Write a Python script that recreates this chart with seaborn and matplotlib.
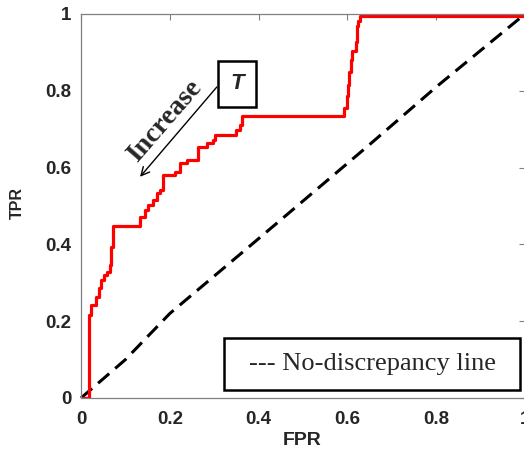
import matplotlib
matplotlib.use("Agg")
import matplotlib.pyplot as plt
import seaborn as sns
import pandas as pd
from matplotlib.patches import Rectangle

# ROC staircase vertices (steps-post)
fpr = [0.0, 0.018, 0.023, 0.034, 0.041, 0.045, 0.052, 0.059, 0.065, 0.068, 0.072,
       0.133, 0.144, 0.151, 0.162, 0.171, 0.178, 0.185, 0.212, 0.223, 0.239,
       0.264, 0.284, 0.297, 0.302, 0.349, 0.358, 0.363,
       0.592, 0.599, 0.601, 0.604, 0.608, 0.610, 0.619, 0.622, 0.624, 0.628, 1.0]
tpr = [0.0, 0.216, 0.242, 0.263, 0.286, 0.307, 0.320, 0.328, 0.346, 0.393, 0.448,
       0.471, 0.490, 0.503, 0.516, 0.534, 0.542, 0.581, 0.589, 0.612, 0.620,
       0.654, 0.664, 0.672, 0.685, 0.698, 0.711, 0.734,
       0.755, 0.786, 0.815, 0.849, 0.880, 0.904, 0.927, 0.969, 0.982, 0.995, 0.995]

# No-discrepancy line
nd_fpr = [0.0, 0.1, 0.2, 0.4, 0.65, 0.8, 1.0]
nd_tpr = [0.0, 0.1, 0.22, 0.415, 0.66, 0.81, 1.0]

ticks = [0, 0.2, 0.4, 0.6, 0.8, 1]
tick_labels = ["0", "0.2", "0.4", "0.6", "0.8", "1"]

sns.set_style("white")
plt.rcParams['font.family'] = ['Liberation Sans', 'DejaVu Sans']

fig = plt.figure(figsize=(5.24, 4.5), dpi=100)
ax = fig.add_axes([81/524, 1-398/450, 444/524, 384/450])

roc = pd.DataFrame({"FPR": fpr, "TPR": tpr})
nd = pd.DataFrame({"FPR": nd_fpr, "TPR": nd_tpr})

sns.lineplot(data=nd, x="FPR", y="TPR", ax=ax, color="black", lw=2.2,
             linestyle=(0, (4.8, 2.6)), sort=False, estimator=None, clip_on=False)
sns.lineplot(data=roc, x="FPR", y="TPR", ax=ax, color="#ff0000", lw=2.3,
             drawstyle="steps-post", sort=False, estimator=None)

ax.set_xlim(0, 1)
ax.set_ylim(0, 1)
ax.set_xticks(ticks)
ax.set_xticklabels(tick_labels, fontweight="bold", fontsize=13.5)
ax.set_yticks(ticks)
ax.set_yticklabels(tick_labels, fontweight="bold", fontsize=13.5)
ax.tick_params(direction="in", length=4, width=0.8, color="#808080",
               top=True, right=True, pad=7)
ax.tick_params(axis="x", pad=9)
for s in ax.spines.values():
    s.set_color("#808080")
    s.set_linewidth(0.9)

ax.set_xlabel("FPR", fontsize=14, fontweight="bold")
ax.set_ylabel("TPR", fontsize=11.5, fontweight="bold")
ax.xaxis.set_label_coords(0.498, -0.088)
ax.yaxis.set_label_coords(-0.126, 0.508)

# Annotation: T box and arrow
ax.text(0.351, 0.818, "T", fontsize=16, fontweight="bold", style="italic",
        ha="center", va="center",
        bbox=dict(boxstyle="square,pad=0.55", fc="white", ec="black", lw=1.8))
ax.annotate("", xy=(0.133, 0.576), xytext=(0.306, 0.81),
            arrowprops=dict(arrowstyle="->,head_length=0.6,head_width=0.3",
                            color="black", lw=1.0, shrinkA=0, shrinkB=0))
ax.text(0.188, 0.722, "Increase", fontsize=20, fontweight="bold",
        family="Liberation Serif", rotation=49, ha="center", va="center",
        rotation_mode="anchor")

# Legend-like text box
ax.add_patch(Rectangle((0.322, 0.021), 0.667, 0.135, transform=ax.transAxes,
                       fill=True, fc="white", ec="black", lw=1.8, zorder=5))
ax.text(0.6555, 0.088, "--- No-discrepancy line", transform=ax.transAxes,
        fontsize=19, family="Liberation Serif", ha="center", va="center", zorder=6)

fig.savefig("out.png", dpi=100)
